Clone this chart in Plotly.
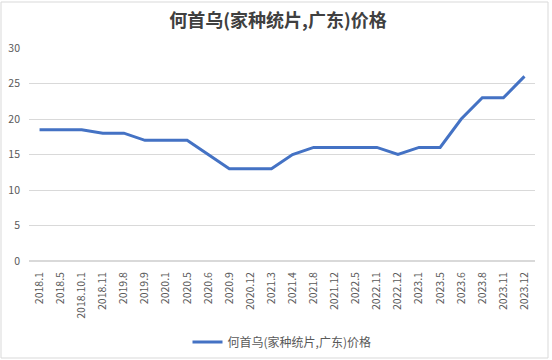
import plotly.graph_objects as go

categories = ["2018.1", "2018.5", "2018.10.1", "2018.11", "2019.8", "2019.9", "2020.1", "2020.5",
              "2020.6", "2020.9", "2020.12", "2021.3", "2021.4", "2021.8", "2021.12", "2022.5",
              "2022.11", "2022.12", "2023.1", "2023.5", "2023.6", "2023.8", "2023.11", "2023.12"]
prices = [18.5, 18.5, 18.5, 18, 18, 17, 17, 17, 15, 13, 13, 13, 15, 16, 16, 16, 16, 15, 16, 16,
          20, 23, 23, 26]
series_name = "何首乌(家种统片,广东)价格"
title_text = "何首乌(家种统片,广东)价格"
y_ticks = [0, 5, 10, 15, 20, 25, 30]

font_family = "Noto Sans CJK SC, Lato, sans-serif"

fig = go.Figure()
fig.add_trace(go.Scatter(
    x=categories, y=prices, mode="lines", name=series_name,
    line=dict(color="#4472C4", width=3),
))

fig.update_layout(
    width=552, height=360,
    paper_bgcolor="white", plot_bgcolor="white",
    margin=dict(l=29, r=17, t=48, b=99, autoexpand=False),
    title=dict(text="<b>" + title_text + "</b>", x=278 / 552, xanchor="center",
               y=1 - 21 / 360, yanchor="middle",
               font=dict(family=font_family, size=18, color="#404040")),
    font=dict(family=font_family, size=10, color="#595959"),
    showlegend=True,
    legend=dict(orientation="h", x=0.5, xanchor="center", yref="container",
                y=1 - 342 / 360, yanchor="middle",
                font=dict(size=12, color="#595959")),
    xaxis=dict(type="category", tickangle=-90, showgrid=False, showline=False, automargin=False,
               ticks="", ticklabelstandoff=8,
               tickfont=dict(size=10.5, color="#595959"), range=[-0.5, len(categories) - 0.5]),
    yaxis=dict(range=[0, 30], tickvals=y_ticks, showgrid=True, gridcolor="#D9D9D9", gridwidth=1,
               automargin=False, zeroline=True, zerolinecolor="#D9D9D9", showline=False, ticks="",
               ticklabelstandoff=8, tickfont=dict(size=10.5, color="#595959")),
    shapes=[dict(type="rect", xref="paper", yref="paper", x0=-28/506, x1=1 + 13/506,
                 y0=-97/213, y1=1 + 46/213, line=dict(color="#D9D9D9", width=1))],
)

fig.write_html("out.html", config={"displayModeBar": False},
               post_script="document.body.style.margin='0';")
